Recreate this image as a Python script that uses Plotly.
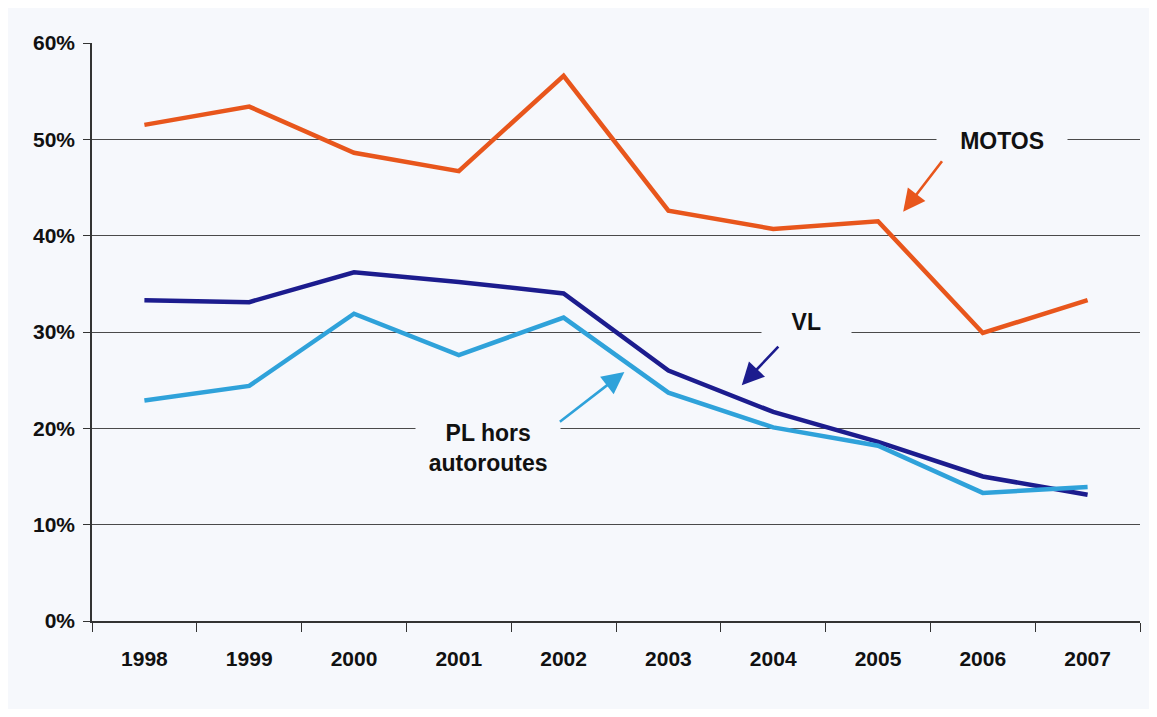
import plotly.graph_objects as go

years = ["1998", "1999", "2000", "2001", "2002", "2003", "2004", "2005", "2006", "2007"]
motos = [0.515, 0.534, 0.486, 0.467, 0.566, 0.426, 0.407, 0.415, 0.299, 0.333]
vl = [0.333, 0.331, 0.362, 0.352, 0.340, 0.260, 0.217, 0.186, 0.150, 0.131]
pl = [0.229, 0.244, 0.319, 0.276, 0.315, 0.237, 0.201, 0.182, 0.133, 0.139]
y_ticks = [0, 0.1, 0.2, 0.3, 0.4, 0.5, 0.6]

BG = "#f6f8fc"
FONT = "Liberation Sans"

fig = go.Figure()
fig.add_trace(go.Scatter(x=years, y=motos, mode="lines", line=dict(color="#e8561c", width=4.5), name="MOTOS"))
fig.add_trace(go.Scatter(x=years, y=vl, mode="lines", line=dict(color="#1c1c8e", width=4.5), name="VL"))
fig.add_trace(go.Scatter(x=years, y=pl, mode="lines", line=dict(color="#2fa2da", width=4.5), name="PL"))

fig.update_layout(
    width=1141, height=701,
    margin=dict(l=84, r=9, t=35, b=88),
    paper_bgcolor=BG, plot_bgcolor=BG,
    showlegend=False,
    font=dict(family=FONT, size=18, color="#111"),
)
fig.update_xaxes(
    type="category", range=[-0.5, 9.5], tickson="boundaries", ticks="outside", ticklen=9, tickcolor="#333",
    showline=True, linecolor="#333", linewidth=1.5, showgrid=False,
    tickfont=dict(family=FONT, size=21, color="#111", weight="bold"),
    ticklabelstandoff=18,
)
fig.update_yaxes(
    range=[0, 0.6], tickvals=y_ticks, tickformat=".0%",
    ticks="outside", ticklen=7, tickcolor="#333",
    showline=True, linecolor="#333", linewidth=1.5,
    showgrid=True, gridcolor="#4a4a4a", gridwidth=1.2, zeroline=False,
    tickfont=dict(family=FONT, size=21, color="#111", weight="bold"),
    ticklabelstandoff=4,
)

def label(text, x, y):
    fig.add_annotation(xref="paper", yref="paper", x=x, y=y, xanchor="center", yanchor="middle",
                       text=text, showarrow=False,
                       font=dict(family=FONT, size=23, color="#111", weight="bold"),
                       bgcolor=BG, borderpad=4)

def arrow(x, y, ax, ay, color):
    fig.add_annotation(xref="paper", yref="paper", x=x, y=y, ax=ax, ay=ay, text="",
                       showarrow=True, arrowhead=2, arrowsize=1.7, arrowwidth=2.6, arrowcolor=color)

label("&nbsp;&nbsp;&nbsp;MOTOS&nbsp;&nbsp;&nbsp;", 0.868, 0.830)
label("&nbsp;&nbsp;&nbsp;&nbsp;VL&nbsp;&nbsp;&nbsp;&nbsp;", 0.682, 0.517)
label("&nbsp;&nbsp;&nbsp;&nbsp;PL hors&nbsp;&nbsp;&nbsp;&nbsp;<br>autoroutes", 0.378, 0.299)
arrow(0.774, 0.708, 40, -52, "#e8561c")
arrow(0.620, 0.408, 38, -40, "#1c1c8e")
arrow(0.508, 0.431, -66, 51, "#2fa2da")

fig.write_html("out.html")
